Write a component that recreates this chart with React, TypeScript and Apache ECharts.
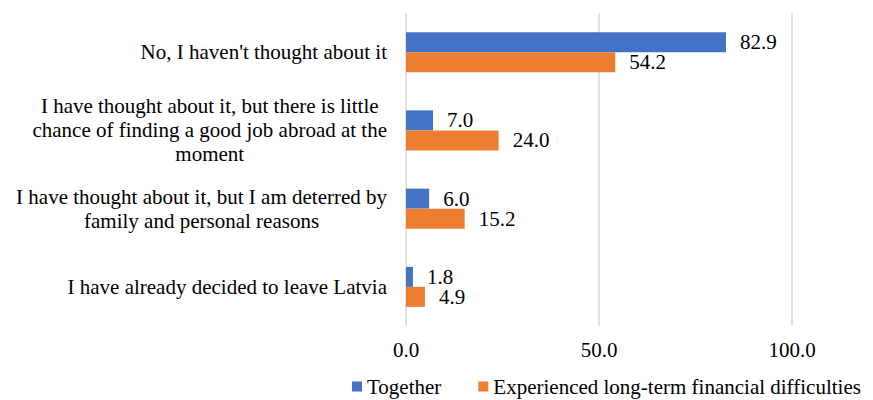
import React, { useEffect, useRef } from "react";
import * as echarts from "echarts";

const categories = [
  "No, I haven't thought about it",
  "I have thought about it, but there is little\nchance of finding a good job abroad at the\nmoment",
  "I have thought about it, but I am deterred by\nfamily and personal reasons",
  "I have already decided to leave Latvia",
];
const together = [82.9, 7.0, 6.0, 1.8];
const financial = [54.2, 24.0, 15.2, 4.9];
const seriesNames = ["Together", "Experienced long-term financial difficulties"];

const FONT = "Liberation Serif";
const FS = 21;

export default function App() {
  const ref = useRef<HTMLDivElement>(null);
  useEffect(() => {
    if (!ref.current) return;
    const chart = echarts.init(ref.current, undefined, { renderer: "svg" });
    const label = {
      show: true,
      position: "right" as const,
      distance: 14,
      fontSize: FS,
      fontFamily: FONT,
      color: "#000",
      formatter: (p: any) => Number(p.value).toFixed(1),
    };
    chart.setOption({
      animation: false,
      textStyle: { fontFamily: FONT },
      grid: { left: 406, right: 81, top: 13, bottom: 74, containLabel: false },
      legend: {
        data: seriesNames,
        left: 352,
        top: 376,
        icon: "rect",
        itemWidth: 10,
        itemHeight: 10,
        itemGap: 37,
        textStyle: { fontSize: FS, fontFamily: FONT, color: "#000" },
        padding: 0,
      },
      xAxis: {
        type: "value",
        min: 0,
        max: 100,
        interval: 50,
        axisLine: { show: false },
        axisTick: { show: false },
        splitLine: { show: true, lineStyle: { color: "#d9d9d9", width: 1.5 } },
        axisLabel: {
          fontSize: FS,
          fontFamily: FONT,
          color: "#000",
          margin: 13,
          formatter: (v: number) => v.toFixed(1),
        },
      },
      yAxis: {
        type: "category",
        data: categories,
        inverse: true,
        axisLine: { show: false },
        axisTick: { show: false },
        axisLabel: {
          margin: 19,
          fontSize: FS,
          fontFamily: FONT,
          color: "#000",
          lineHeight: 24,
          formatter: (v: string) =>
            v
              .split("\n")
              .map((l) => `{c|${l}}`)
              .join("\n"),
          rich: {
            c: {
              align: "center",
              fontSize: FS,
              fontFamily: FONT,
              color: "#000",
              lineHeight: 24,
            },
          },
        },
      },
      series: [
        {
          name: seriesNames[0],
          type: "bar",
          data: together,
          barWidth: 20,
          barGap: "0%",
          itemStyle: { color: "#4472C4" },
          label,
        },
        {
          name: seriesNames[1],
          type: "bar",
          data: financial,
          barWidth: 20,
          barGap: "0%",
          itemStyle: { color: "#ED7D31" },
          label,
        },
      ],
    });
    return () => chart.dispose();
  }, []);
  return (
    <div
      ref={ref}
      style={{ width: 873, height: 400, position: "absolute", left: 0, top: 0 }}
    />
  );
}
